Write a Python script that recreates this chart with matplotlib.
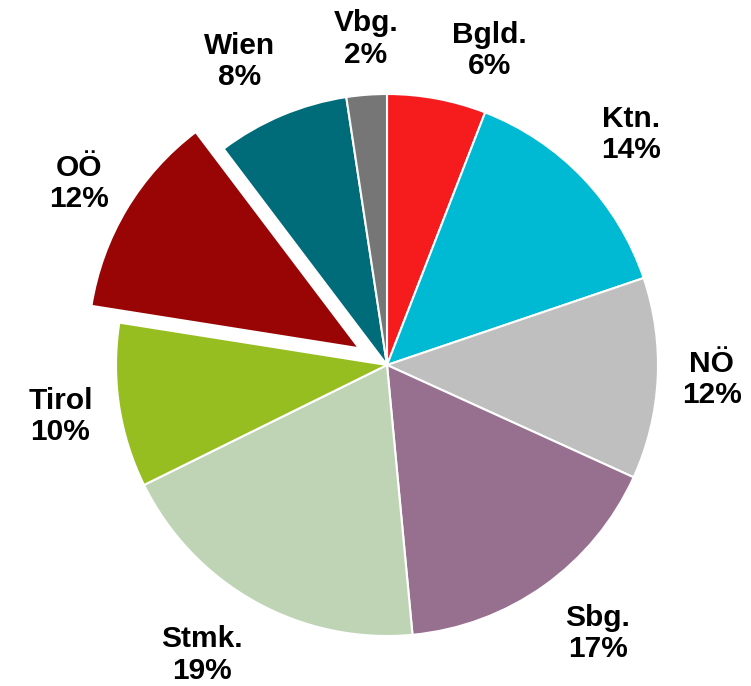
import numpy as np
import matplotlib.pyplot as plt

# shares per Bundesland, clockwise from 12 o'clock
regions = ['Bgld.', 'Ktn.', 'NÖ', 'Sbg.', 'Stmk.', 'Tirol', 'OÖ', 'Wien', 'Vbg.']
shares = [5.9, 13.9, 12.0, 16.7, 19.2, 9.8, 12.2, 7.9, 2.4]
colors = ['#F61C1E', '#00B9D3', '#BFBFBF', '#977090', '#BFD4B5',
          '#97BE21', '#990505', '#006C7A', '#767676']
explode = [0, 0, 0, 0, 0, 0, 0.12, 0, 0]

# label placement: distance (in radii) and clockwise nudge (deg) from wedge middle
lab_dist = [1.22, 1.24, 1.20, 1.26, 1.27, 1.22, 1.20, 1.245, 1.205]
lab_shift = [7.5, 0.4, -0.3, -2.7, 3.4, -0.3, -0.5, -3.1, 0.6]

labels = [f'{r}\n{round(s):.0f}%' for r, s in zip(regions, shares)]

W, H = 751, 686
R = 271.0          # pie radius in pixels
cx, cy = 387, 365  # pie centre in pixels (from top-left)

fig = plt.figure(figsize=(W / 100, H / 100), dpi=100)
ax = fig.add_axes([0, 0, 1, 1])

wedges, _ = ax.pie(
    shares, colors=colors, explode=explode,
    startangle=90, counterclock=False, radius=1,
    wedgeprops={'edgecolor': 'white', 'linewidth': 1.5},
)

for w, lab, d, sh in zip(wedges, labels, lab_dist, lab_shift):
    mid = np.deg2rad((w.theta1 + w.theta2) / 2 - sh)
    x0, y0 = w.center
    ax.text(x0 + d * np.cos(mid), y0 + d * np.sin(mid), lab,
            ha='center', va='center', fontsize=21.5, fontweight='bold',
            family='Liberation Sans', linespacing=1.15)

ax.set_xlim(-cx / R, (W - cx) / R)
ax.set_ylim(-(H - cy) / R, cy / R)
ax.set_aspect('equal')
ax.axis('off')

fig.savefig('out.png', dpi=100)
